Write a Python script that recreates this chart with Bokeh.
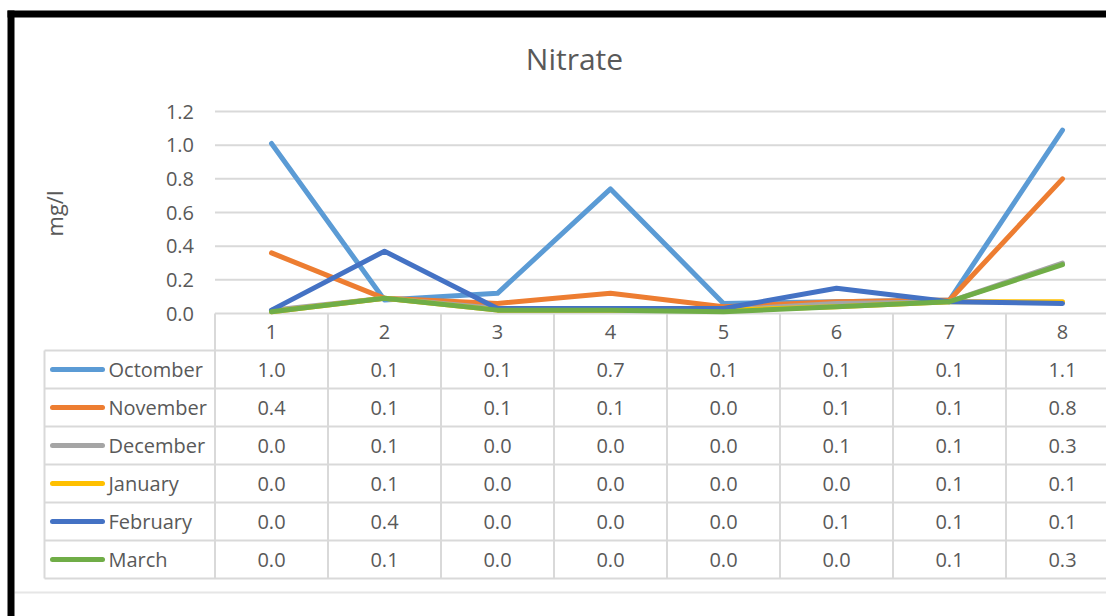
import math

from bokeh.plotting import figure
from bokeh.models import Range1d, ColumnDataSource
from bokeh.core.properties import value
from bokeh.embed import file_html
from bokeh.resources import INLINE

# ---- data -------------------------------------------------------------
title_text = "Nitrate"
y_label = "mg/l"
sites = [1, 2, 3, 4, 5, 6, 7, 8]
months = ["Octomber", "November", "December", "January", "February", "March"]
october = [1.01, 0.08, 0.12, 0.74, 0.06, 0.07, 0.08, 1.09]
november = [0.36, 0.09, 0.06, 0.12, 0.04, 0.07, 0.08, 0.80]
december = [0.02, 0.09, 0.03, 0.03, 0.02, 0.06, 0.07, 0.30]
january = [0.01, 0.09, 0.02, 0.02, 0.02, 0.04, 0.07, 0.07]
february = [0.02, 0.37, 0.03, 0.03, 0.03, 0.15, 0.07, 0.06]
march = [0.01, 0.09, 0.02, 0.02, 0.01, 0.04, 0.07, 0.29]
y_ticks = [0.0, 0.2, 0.4, 0.6, 0.8, 1.0, 1.2]

series = [october, november, december, january, february, march]
colors = ["#5B9BD5", "#ED7D31", "#A5A5A5", "#FFC000", "#4472C4", "#70AD47"]

# ---- layout (canvas pixels) ------------------------------------------
W, H = 1106, 616
PLOT_LEFT, PLOT_TOP = 214, 111   # top-left corner of the plotting area
ZERO_Y = 313                     # canvas row of value 0
FIRST_X = 271                    # canvas column of the first category
COL_W = 113                      # width of one category column
PX_PER_UNIT = (ZERO_Y - PLOT_TOP) / y_ticks[-1]
TABLE_TOP, ROW_H = 350, 38
TABLE_LEFT = 44
FONT = "Open Sans"
TXT = "#595959"
RULE = "#D9D9D9"

# value scales laid over the full canvas
x_range = Range1d(sites[0] - FIRST_X / COL_W, sites[0] + (W - FIRST_X) / COL_W)
y_range = Range1d((ZERO_Y - H) / PX_PER_UNIT, ZERO_Y / PX_PER_UNIT)

p = figure(width=W, height=H, output_backend="svg", toolbar_location=None,
           x_range=x_range, y_range=y_range, x_axis_type=None, y_axis_type=None,
           min_border=0, min_border_left=0, min_border_right=0,
           min_border_top=0, min_border_bottom=0,
           background_fill_color="white", border_fill_color="white")
p.outline_line_color = None
p.title.visible = False
p.xgrid.visible = False
p.ygrid.visible = False

# pixel helper scales for the table, titles and frame decoration
p.extra_x_ranges = {"px": Range1d(0, W)}
p.extra_y_ranges = {"py": Range1d(H, 0)}

x_lo = sites[0] - 0.5
x_hi = x_range.end

# horizontal gridlines at the value ticks
p.segment(x0=[x_lo] * len(y_ticks), x1=[x_hi] * len(y_ticks), y0=y_ticks, y1=y_ticks,
          line_color=RULE, line_width=2)

# value tick labels
p.text(x=[x_lo] * len(y_ticks), y=y_ticks, text=[f"{t:.1f}" for t in y_ticks],
       x_offset=-21, text_align="right", text_baseline="middle",
       text_font=value(FONT), text_font_size="20px", text_color=TXT)

# axis title
p.text(x=[53], y=[213], text=[y_label], angle=math.pi / 2,
       x_range_name="px", y_range_name="py", text_align="center", text_baseline="middle",
       text_font=value(FONT), text_font_size="22px", text_color=TXT)

# chart title
p.text(x=[574], y=[58], text=[title_text], x_range_name="px", y_range_name="py",
       text_align="center", text_baseline="middle",
       text_font=value(FONT), text_font_size="30px", text_color=TXT)

# ---- data table -------------------------------------------------------
n_rows = len(months)
row_edges = [TABLE_TOP + ROW_H * k for k in range(n_rows + 1)]
row_mid = [TABLE_TOP + ROW_H * k + ROW_H / 2 for k in range(n_rows)]
table_bottom = row_edges[-1]

# horizontal rules of the table
p.segment(x0=[TABLE_LEFT] * len(row_edges), x1=[W] * len(row_edges), y0=row_edges, y1=row_edges,
          x_range_name="px", y_range_name="py", line_color=RULE, line_width=2)
# left edge of the legend column
p.segment(x0=[TABLE_LEFT], x1=[TABLE_LEFT], y0=[TABLE_TOP], y1=[table_bottom],
          x_range_name="px", y_range_name="py", line_color=RULE, line_width=2)
# column separators between categories, from the axis down
bounds = [s - 0.5 for s in sites]
p.segment(x0=bounds, y0=[ZERO_Y] * len(bounds), x1=bounds, y1=[table_bottom] * len(bounds),
          line_color=RULE, line_width=2, y_range_name="py")

# category labels in the header row
p.text(x=sites, y=[ZERO_Y + 18] * len(sites), text=[str(s) for s in sites],
       y_range_name="py", text_align="center", text_baseline="middle",
       text_font=value(FONT), text_font_size="20px", text_color=TXT)

# cell values
cx, cy, ct = [], [], []
for vals, ym in zip(series, row_mid):
    for s, v in zip(sites, vals):
        cx.append(s)
        cy.append(ym)
        ct.append(f"{v:.1f}")
p.text(x=cx, y=cy, text=ct, y_range_name="py", text_align="center",
       text_baseline="middle", text_font=value(FONT), text_font_size="20px", text_color=TXT)

# legend keys and names
key_src = ColumnDataSource(dict(x0=[52] * n_rows, x1=[102] * n_rows, y=row_mid, c=colors))
p.segment(x0="x0", x1="x1", y0="y", y1="y", line_color="c", source=key_src,
          x_range_name="px", y_range_name="py", line_width=5, line_cap="round")
p.text(x=[108] * n_rows, y=row_mid, text=months, x_range_name="px", y_range_name="py",
       text_align="left", text_baseline="middle",
       text_font=value(FONT), text_font_size="20px", text_color=TXT)

# ---- series lines -----------------------------------------------------
for vals, c in zip(series, colors):
    p.line(sites, vals, line_color=c, line_width=5, line_cap="round", line_join="round")

# faint rule under the table
p.segment(x0=[14], x1=[W], y0=[592], y1=[592], x_range_name="px", y_range_name="py",
          line_color="#E6E6E6", line_width=2)

# outer frame: black bars on top and left
p.quad(left=[7], right=[W], top=[10], bottom=[17], x_range_name="px", y_range_name="py",
       fill_color="black", line_color=None)
p.quad(left=[7], right=[14], top=[10], bottom=[H], x_range_name="px", y_range_name="py",
       fill_color="black", line_color=None)

open("out.html", "w").write(file_html(p, INLINE))
